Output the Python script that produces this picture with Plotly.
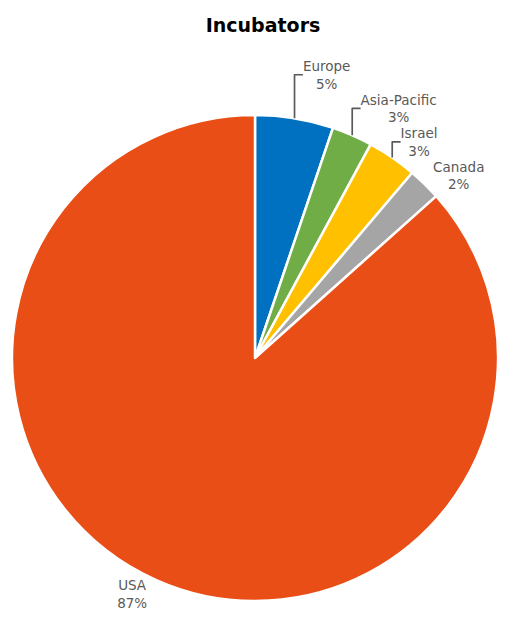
import plotly.graph_objects as go

# Share of incubators by region (percent)
regions = ["Europe", "Asia-Pacific", "Israel", "Canada", "USA"]
shares = [5.2, 2.7, 3.3, 2.2, 86.6]
colors = ["#0070C0", "#70AD47", "#FFC000", "#A5A5A5", "#E94E16"]

W, H = 526, 634

fig = go.Figure(
    go.Pie(
        labels=regions,
        values=shares,
        sort=False,
        direction="clockwise",
        rotation=0,
        marker=dict(colors=colors, line=dict(color="white", width=2.5)),
        texttemplate="%{label}<br>%{percent:.0%}",
        textposition="outside",
        textfont=dict(family="DejaVu Sans", size=13.5, color="#595959"),
        showlegend=False,
        hoverinfo="label+percent",
        domain=dict(x=[12 / W, 498 / W], y=[1 - 601 / H, 1 - 115 / H]),
        automargin=False,
    )
)

fig.update_layout(
    width=W,
    height=H,
    margin=dict(l=0, r=0, t=0, b=0),
    paper_bgcolor="white",
    plot_bgcolor="white",
    title=dict(
        text="<b>Incubators</b>",
        x=0.5,
        xanchor="center",
        y=1 - 25 / H,
        yanchor="middle",
        font=dict(family="DejaVu Sans", size=19, color="black"),
    ),
)

fig.write_html("out.html")
